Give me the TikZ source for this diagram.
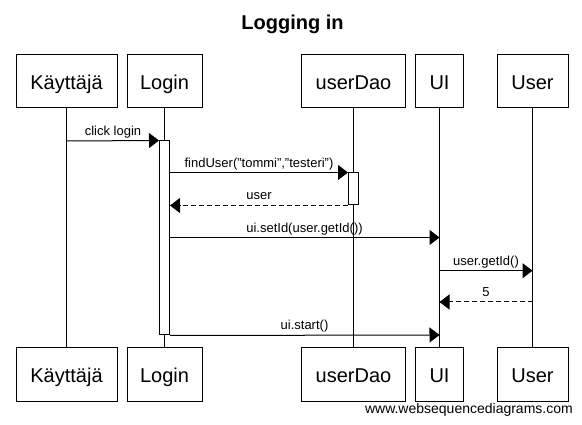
\documentclass[tikz,border=0pt]{standalone}
\usepackage{fontspec}
\setmainfont{Liberation Sans}
\usetikzlibrary{arrows.meta}
\begin{document}
\begin{tikzpicture}[x=1pt,y=-1pt,
  actor/.style={draw, line width=1pt, minimum height=53pt, inner sep=0pt,
    text height=16pt, text depth=0pt, font=\fontsize{20}{24}\selectfont},
  lifeline/.style={line width=1pt},
  actbar/.style={draw, fill=white, line width=1pt, minimum width=10pt, inner sep=0pt},
  msg/.style={line width=1pt, -{Triangle[length=10pt,width=15pt]}},
  ret/.style={msg, dash pattern=on 5pt off 3pt},
  lbl/.style={font=\fontsize{13}{15}\selectfont, anchor=base, inner sep=0pt}
]
\useasboundingbox (0,0) rectangle (582,425);
\fill[white] (0,0) rectangle (582,425);

% title
\node[font=\bfseries\fontsize{20}{24}\selectfont, anchor=base, inner sep=0pt] (title) at (292.5,29.3) {Logging in};

% participants top
\node[actor, minimum width=101pt] (kt) at (66.5,81.5) {Käyttäjä};
\node[actor, minimum width=75pt]  (lt) at (164.5,81.5) {Login};
\node[actor, minimum width=104pt] (dt) at (353.5,81.5) {userDao};
\node[actor, minimum width=48pt]  (ut) at (439.5,81.5) {UI};
\node[actor, minimum width=71pt]  (ust) at (532.5,81.5) {User};
% participants bottom
\node[actor, minimum width=101pt] (kb) at (66.5,374.5) {Käyttäjä};
\node[actor, minimum width=75pt]  (lb) at (164.5,374.5) {Login};
\node[actor, minimum width=104pt] (db) at (353.5,374.5) {userDao};
\node[actor, minimum width=48pt]  (ub) at (439.5,374.5) {UI};
\node[actor, minimum width=71pt]  (usb) at (532.5,374.5) {User};

% lifelines
\draw[lifeline] (kt) -- (kb);
\draw[lifeline] (lt) -- (lb);
\draw[lifeline] (dt) -- (db);
\draw[lifeline] (ut) -- (ub);
\draw[lifeline] (ust) -- (usb);

% activation bars
\node[actbar, minimum height=194pt] (lbar) at (164.5,238) {};
\node[actbar, minimum height=32pt] (dbar) at (353.5,189) {};

% message end points
\coordinate (m1) at (66.5,141);
\coordinate (m3) at (439.5,237.5);
\coordinate (m4a) at (439.5,270.7);
\coordinate (m4b) at (532.5,270.7);
\coordinate (m5a) at (532.5,302);
\coordinate (m5b) at (439.5,302);
\coordinate (m6) at (439.5,335);

% messages
\draw[msg] (m1) -- (lbar.north west);
\node[lbl] (l1) at (113,136) {click login};

\draw[msg] (lbar.east |- dbar.north) -- (dbar.north west);
\node[lbl] (l2) at (259,168) {findUser("tommi","testeri")};

\draw[ret] (dbar.south west) -- (lbar.east |- dbar.south);
\node[lbl] (l3) at (259,200) {user};

\draw[msg] (lbar.east |- m3) -- (m3);
\node[lbl] (l4) at (304.5,232.5) {ui.setId(user.getId())};

\draw[msg] (m4a) -- (m4b);
\node[lbl] (l5) at (486,265.7) {user.getId()};

\draw[ret] (m5a) -- (m5b);
\node[lbl] (l6) at (486,297) {5};

\draw[msg] (lbar.south east) -- (m6);
\node[lbl] (l7) at (304.5,330) {ui.start()};

% watermark
\node[font=\fontsize{14}{16}\selectfont, anchor=base east, inner sep=0pt] (wm) at (573,413.3) {www.websequencediagrams.com};
\end{tikzpicture}
\end{document}
